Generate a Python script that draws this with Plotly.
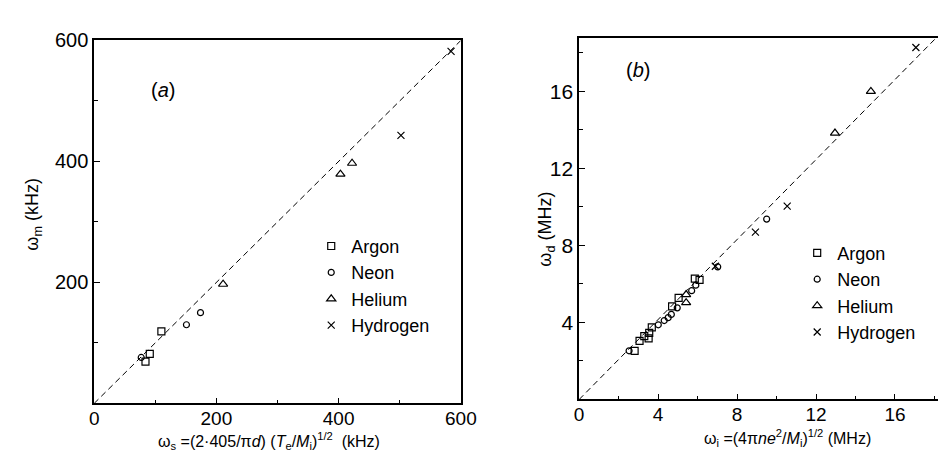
import plotly.graph_objects as go

# ---------------- Panel (a) data (kHz) ----------------
argon_a_x = [84, 91, 110]
argon_a_y = [69, 82, 119]
neon_a_x = [77, 151, 174]
neon_a_y = [76, 130, 150]
helium_a_x = [211, 403, 422]
helium_a_y = [197, 379, 397]
hydrogen_a_x = [502, 584]
hydrogen_a_y = [443, 582]
fit_a_x = [0, 600]
fit_a_y = [0, 600]
ticks_a = [0, 200, 400, 600]

# ---------------- Panel (b) data (MHz) ----------------
argon_b_x = [2.81, 3.06, 3.30, 3.52, 3.55, 3.68, 4.71, 5.04, 5.86, 6.10]
argon_b_y = [2.53, 3.04, 3.29, 3.17, 3.46, 3.75, 4.84, 5.28, 6.28, 6.21]
neon_b_x = [2.53, 4.01, 4.31, 4.51, 4.67, 4.97, 5.70, 5.91, 7.02, 9.50]
neon_b_y = [2.53, 3.88, 4.10, 4.25, 4.42, 4.76, 5.65, 5.94, 6.89, 9.37]
helium_b_x = [5.42, 5.42, 12.96, 14.78]
helium_b_y = [5.45, 5.03, 13.84, 16.0]
hydrogen_b_x = [6.90, 8.93, 10.54, 17.06]
hydrogen_b_y = [6.92, 8.69, 10.04, 18.28]
fit_b_x = [0, 18.2]
fit_b_y = [0, 18.9]
ticks_b = [0, 4, 8, 12, 16]

gases = ["Argon", "Neon", "Helium", "Hydrogen"]
symbols = ["square-open", "circle-open", "triangle-up-open", "x-thin-open"]
sizes = [7, 6, 8, 7]

FONT = "Liberation Sans, Arial, sans-serif"
W, H = 946, 451

fig = go.Figure()

series_a = [(argon_a_x, argon_a_y), (neon_a_x, neon_a_y),
            (helium_a_x, helium_a_y), (hydrogen_a_x, hydrogen_a_y)]
series_b = [(argon_b_x, argon_b_y), (neon_b_x, neon_b_y),
            (helium_b_x, helium_b_y), (hydrogen_b_x, hydrogen_b_y)]

fig.add_trace(go.Scatter(x=fit_a_x, y=fit_a_y, mode="lines", xaxis="x", yaxis="y",
                         line=dict(color="black", width=1, dash="6px,4px"),
                         showlegend=False, hoverinfo="skip"))
fig.add_trace(go.Scatter(x=fit_b_x, y=fit_b_y, mode="lines", xaxis="x2", yaxis="y2",
                         line=dict(color="black", width=1, dash="6px,4px"),
                         showlegend=False, hoverinfo="skip"))

for (xs, ys), name, sym, sz in zip(series_a, gases, symbols, sizes):
    fig.add_trace(go.Scatter(x=xs, y=ys, mode="markers", name=name, xaxis="x", yaxis="y",
                             legend="legend",
                             marker=dict(symbol=sym, size=sz, color="black",
                                         line=dict(color="black", width=1.2))))
for (xs, ys), name, sym, sz in zip(series_b, gases, symbols, sizes):
    fig.add_trace(go.Scatter(x=xs, y=ys, mode="markers", name=name, xaxis="x2", yaxis="y2",
                             legend="legend2",
                             marker=dict(symbol=sym, size=sz, color="black",
                                         line=dict(color="black", width=1.2))))

def px_x(p):
    return p / W

def px_y(p):
    return 1 - p / H

axis_common = dict(showgrid=False, zeroline=False, showline=True, linecolor="black",
                   linewidth=1.6, ticks="inside", ticklen=6, tickwidth=1.2,
                   tickcolor="black")
font_a_ticks = dict(family=FONT, size=20, color="black")
font_b_ticks = dict(family=FONT, size=21, color="black")
font_x_ticks = dict(family=FONT, size=19, color="black")

fig.update_layout(
    width=W, height=H,
    margin=dict(l=0, r=0, t=0, b=0),
    paper_bgcolor="white", plot_bgcolor="white",
    font=dict(family=FONT, color="black"),
    xaxis=dict(domain=[px_x(83), px_x(458)], range=[0, 600], anchor="y",
               tickvals=ticks_a, mirror=True, tickfont=font_x_ticks, ticklabelstandoff=-3,
               minor=dict(dtick=100, tick0=0, ticks="inside", ticklen=4, tickcolor="black"),
               **axis_common),
    yaxis=dict(domain=[px_y(394), px_y(22)], range=[0, 600], anchor="x",
               tickvals=ticks_a[1:], mirror=True, tickfont=font_a_ticks,
               minor=dict(dtick=100, tick0=0, ticks="inside", ticklen=4, tickcolor="black"),
               **axis_common),
    xaxis2=dict(domain=[px_x(579), 1.0], range=[0, 18.18], anchor="y2",
                tickvals=ticks_b, mirror=True, tickfont=font_x_ticks, ticklabelstandoff=-3,
                minor=dict(dtick=2, tick0=0, ticks="inside", ticklen=4, tickcolor="black"),
                **axis_common),
    yaxis2=dict(domain=[px_y(390), px_y(19)], range=[0, 18.8], anchor="x2",
                tickvals=ticks_b[1:], mirror=False, tickfont=font_b_ticks,
                minor=dict(dtick=2, tick0=0, ticks="inside", ticklen=4, tickcolor="black"),
                **axis_common),
    legend=dict(x=px_x(305), y=px_y(214), xanchor="left", yanchor="top",
                bgcolor="rgba(0,0,0,0)", borderwidth=0,
                font=dict(family=FONT, size=18, color="black"), itemwidth=30),
    legend2=dict(x=px_x(802), y=px_y(221), xanchor="left", yanchor="top",
                 bgcolor="rgba(0,0,0,0)", borderwidth=0,
                 font=dict(family=FONT, size=18, color="black"), itemwidth=30),
    annotations=[
        dict(text="ω<sub>s</sub> =(2·405/π<i>d</i>) (<i>T</i><sub>e</sub>/<i>M</i><sub>i</sub>)<sup>1/2</sup>  (kHz)",
             xref="paper", yref="paper", x=px_x(262), y=px_y(446), xanchor="center", yanchor="bottom",
             showarrow=False, font=dict(family=FONT, size=16, color="black")),
        dict(text="ω<sub>m</sub> (kHz)", textangle=-90,
             xref="paper", yref="paper", x=px_x(21), y=px_y(200), xanchor="center", yanchor="middle",
             showarrow=False, font=dict(family=FONT, size=18, color="black")),
        dict(text="ω<sub>i</sub> =(4π<i>ne</i><sup>2</sup>/<i>M</i><sub>i</sub>)<sup>1/2</sup> (MHz)",
             xref="paper", yref="paper", x=px_x(792), y=px_y(443), xanchor="center", yanchor="bottom",
             showarrow=False, font=dict(family=FONT, size=16, color="black")),
        dict(text="ω<sub>d</sub> (MHz)", textangle=-90,
             xref="paper", yref="paper", x=px_x(546), y=px_y(215), xanchor="center", yanchor="middle",
             showarrow=False, font=dict(family=FONT, size=18, color="black")),
        dict(text="(<i>a</i>)", xref="paper", yref="paper", x=px_x(153), y=px_y(73),
             xanchor="center", yanchor="middle", showarrow=False,
             font=dict(family=FONT, size=20, color="black")),
        dict(text="(<i>b</i>)", xref="paper", yref="paper", x=px_x(639), y=px_y(52),
             xanchor="center", yanchor="middle", showarrow=False,
             font=dict(family=FONT, size=20, color="black")),
    ],
)

fig.write_html("out.html")
